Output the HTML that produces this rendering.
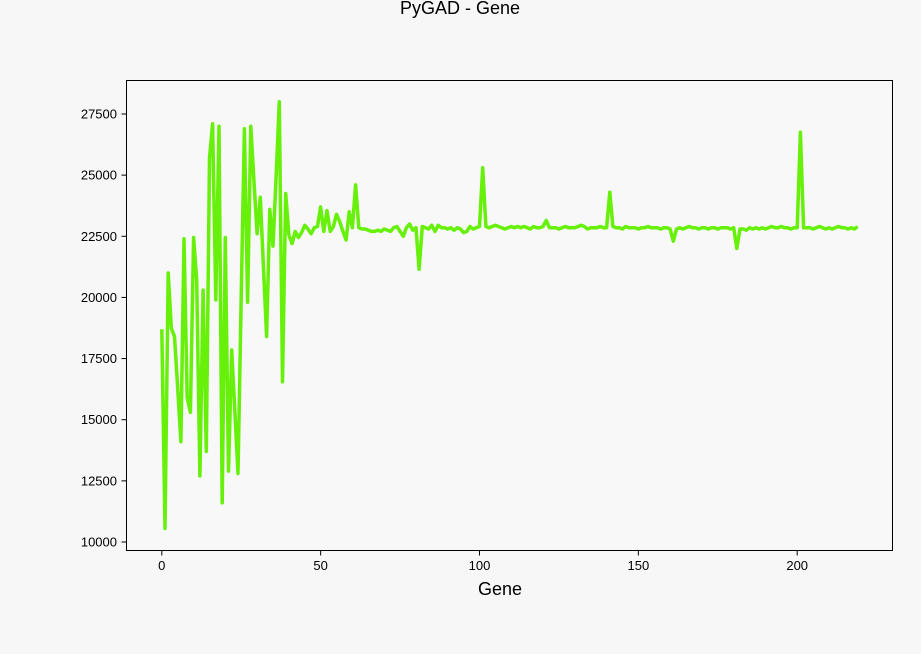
<!DOCTYPE html>
<html><head><meta charset="utf-8"><style>
body{margin:0;background:#f7f7f7;}
svg{display:block;font-family:"Liberation Sans","DejaVu Sans",sans-serif;}
</style></head><body>
<svg id="chart" width="921" height="654">
<rect width="921" height="654" fill="#f7f7f7"/>
<text x="460" y="14" text-anchor="middle" font-size="18" fill="#000">PyGAD - Gene</text>
<rect x="126.5" y="80.5" width="766" height="470" fill="#f8f8f8" stroke="#000" stroke-width="1"/>
<g id="xt"></g>
<g id="yt"></g>
<path id="line" fill="none" stroke="#66f00a" stroke-width="3.5" stroke-linejoin="round"/>
<text x="500" y="595" text-anchor="middle" font-size="18" fill="#000">Gene</text>
</svg>
<script>
const values = [18700,10550,21000,18750,18400,16300,14100,22400,15900,15300,
22450,20700,12700,20300,13700,25700,27100,19900,27000,11600,
22450,12900,17850,15300,12800,20000,26900,19800,27000,24800,
22600,24100,21200,18400,23600,22100,25000,28000,16550,24250,
22550,22200,22700,22450,22650,22950,22800,22600,22850,22900,
23700,22700,23550,22700,22900,23400,23100,22700,22350,23500,
22850,24600,22850,22800,22800,22750,22700,22700,22750,22700,
22800,22750,22700,22850,22900,22700,22500,22850,23000,22750,
22850,21150,22900,22850,22800,22950,22700,22950,22850,22850,
22800,22850,22750,22850,22800,22650,22700,22900,22800,22850,
22900,25300,22900,22850,22900,22950,22900,22850,22800,22850,
22900,22850,22900,22850,22900,22850,22800,22900,22850,22850,
22900,23150,22850,22850,22850,22800,22850,22900,22850,22850,
22850,22900,22950,22900,22800,22850,22850,22850,22900,22850,
22850,24300,22900,22850,22850,22800,22900,22850,22850,22850,
22800,22850,22850,22900,22850,22850,22850,22800,22850,22850,
22800,22300,22800,22850,22800,22850,22900,22850,22850,22800,
22850,22850,22800,22850,22850,22800,22850,22850,22850,22800,
22850,22000,22800,22800,22750,22850,22800,22850,22800,22850,
22800,22850,22900,22850,22850,22900,22850,22850,22800,22850,
22850,26750,22850,22850,22850,22800,22850,22900,22850,22800,
22850,22800,22850,22900,22850,22850,22800,22850,22800,22900];
const xTicks = [0,50,100,150,200];
const yTicks = [10000,12500,15000,17500,20000,22500,25000,27500];
const NS="http://www.w3.org/2000/svg";
function xs(v){return 161.8+v*3.177;}
function ys(v){return 542-(v-10000)*0.024457;}
const xt=document.getElementById('xt'), yt=document.getElementById('yt');
xTicks.forEach(t=>{
  const l=document.createElementNS(NS,'line');
  
  
  l.setAttribute('x1',xs(t));l.setAttribute('x2',xs(t));l.setAttribute('y1',551);l.setAttribute('y2',555.5);l.setAttribute('stroke','#000');
  xt.appendChild(l);
  const tx=document.createElementNS(NS,'text');
  
  
  tx.setAttribute('x',xs(t));tx.setAttribute('y',570);tx.setAttribute('text-anchor','middle');tx.setAttribute('font-size','13');
  tx.textContent=t;xt.appendChild(tx);
});
yTicks.forEach(t=>{
  const l=document.createElementNS(NS,'line');
  
  
  l.setAttribute('x1',121.5);l.setAttribute('x2',126);l.setAttribute('y1',ys(t));l.setAttribute('y2',ys(t));l.setAttribute('stroke','#000');
  yt.appendChild(l);
  const tx=document.createElementNS(NS,'text');
  
  
  tx.setAttribute('x',117);tx.setAttribute('y',ys(t)+4.5);tx.setAttribute('text-anchor','end');tx.setAttribute('font-size','13');
  tx.textContent=t;yt.appendChild(tx);
});
document.getElementById('line').setAttribute('d',values.map((v,i)=>(i?'L':'M')+xs(i).toFixed(1)+','+ys(v).toFixed(1)).join(''));
</script>
</body></html>
